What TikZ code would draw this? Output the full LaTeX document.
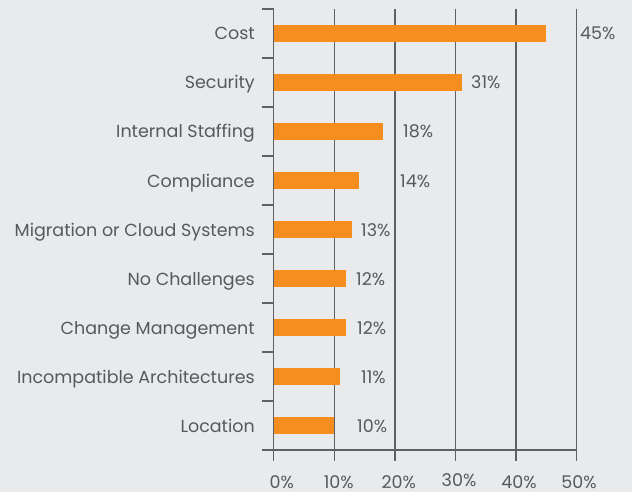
\documentclass[tikz,border=0pt]{standalone}
\usepackage{fontspec}
\setmainfont{Poppins}[Ligatures=NoCommon]
\usetikzlibrary{positioning}
\definecolor{bgGray}{HTML}{E9EAEC}
\definecolor{barOrange}{HTML}{F68D1F}
\definecolor{textGray}{HTML}{58595B}
\definecolor{lineGray}{HTML}{5F6062}

\begin{document}
\begin{tikzpicture}[x=1pt, y=-1pt,
	lbl/.style={text=textGray, font=\fontsize{17.5}{20}\selectfont, inner sep=0pt},
	bar/.style={fill=barOrange},
	axisline/.style={draw=lineGray, line width=1.3pt}]
	\fill[bgGray] (0, 0) rectangle (632, 492);
	\useasboundingbox (0, 0) rectangle (632, 492);
	\foreach \v in {0, 10, ..., 50}
		\draw[axisline] ({273.7+6.06*\v}, 9) -- ({273.7+6.06*\v}, 461);
	\draw[axisline] (262, 450) -- (576.7, 450);
	\foreach \name/\v/\px [count=\i from 0] in {Cost/45/580, Security/31/471, Internal Staffing/18/403,
		Compliance/14/400, Migration or Cloud Systems/13/361, No Challenges/12/356,
		Change Management/12/357, Incompatible Architectures/11/361, Location/10/357} {
		\draw[axisline] (262, {9+49*\i}) -- (273.7, {9+49*\i});
		\fill[bar] (274.3, {25+49*\i}) rectangle ({273.7+6.06*\v}, {42+49*\i});
		\node[lbl, anchor=base east] (cat\i) at (255, {40+49*\i}) {\name};
		\node[lbl, anchor=base west] (val\i) at (\px, {40+49*\i}) {\v\%};
	}
	\foreach \v/\cx/\by in {0/281.8/488.5, 10/338.7/488.5, 20/398.7/488.5, 30/459/486.5, 40/519/488.5, 50/579/488.5}
		\node[lbl, text depth=0pt, anchor=base] (tick\v) at (\cx, \by) {\v\%};
\end{tikzpicture}
\end{document}
